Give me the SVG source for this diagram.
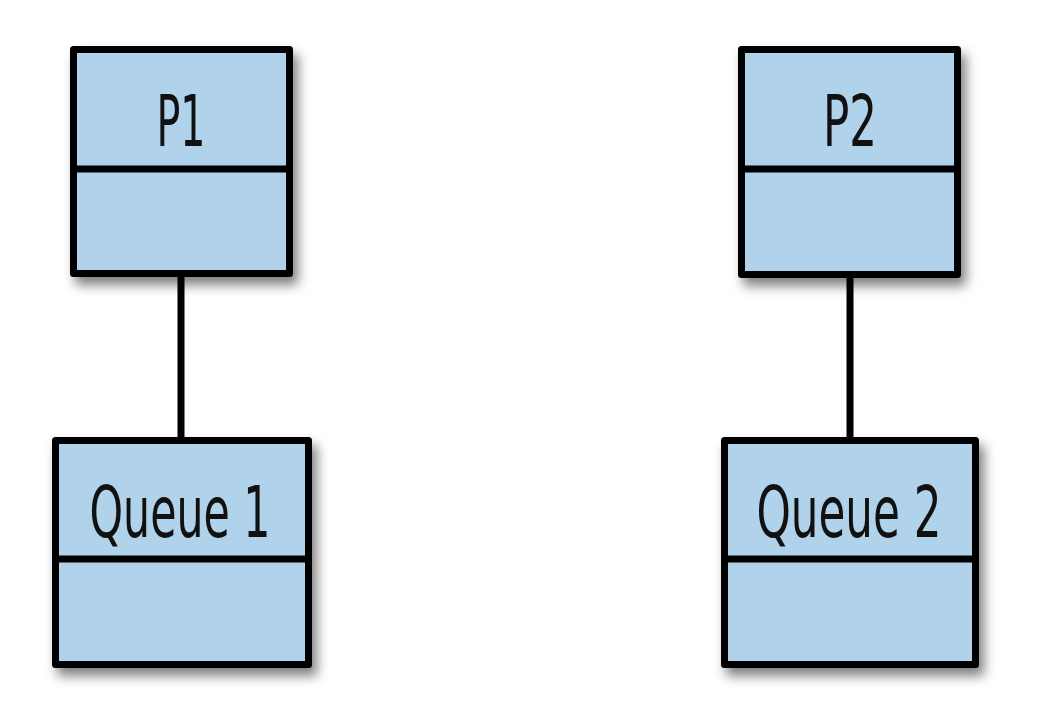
<svg xmlns="http://www.w3.org/2000/svg" width="1037" height="704" viewBox="0 0 1037 704">
<defs>
<filter id="sh" x="-20%" y="-20%" width="150%" height="150%">
<feDropShadow dx="5" dy="8" stdDeviation="6" flood-color="#000" flood-opacity="0.5"/>
</filter>
<style>
.box{fill:#b0d3eb;stroke:#000;stroke-width:7;stroke-linejoin:round;filter:url(#sh)}
.div{stroke:#000;stroke-width:7}
.lbl{font-family:"Liberation Sans Narrow","DejaVu Sans Condensed","Liberation Sans",sans-serif;font-size:72px;fill:#111;text-anchor:middle}
.con{stroke:#000;stroke-width:7;fill:none}
</style>
</defs>
<rect width="1037" height="704" fill="#fff"/>
<g id="connectors">
<line class="con" x1="181" y1="276" x2="181" y2="440"/>
<line class="con" x1="850" y1="276" x2="850" y2="440"/>
</g>
<g id="p1">
<rect class="box" x="73.5" y="49.5" width="216" height="224"/>
<line class="div" x1="73.5" y1="169" x2="289.5" y2="169"/>
<text class="lbl" x="181" y="146" textLength="49" lengthAdjust="spacingAndGlyphs">P1</text>
</g>
<g id="queue1">
<rect class="box" x="55.5" y="440.5" width="253" height="224"/>
<line class="div" x1="55.5" y1="559" x2="308.5" y2="559"/>
<text class="lbl" x="180" y="537" textLength="181" lengthAdjust="spacingAndGlyphs">Queue 1</text>
</g>
<g id="p2">
<rect class="box" x="741.5" y="49.5" width="216" height="225"/>
<line class="div" x1="741.5" y1="169" x2="957.5" y2="169"/>
<text class="lbl" x="850" y="146" textLength="54" lengthAdjust="spacingAndGlyphs">P2</text>
</g>
<g id="queue2">
<rect class="box" x="724.5" y="440.5" width="251" height="224"/>
<line class="div" x1="724.5" y1="559" x2="975.5" y2="559"/>
<text class="lbl" x="849" y="537" textLength="185" lengthAdjust="spacingAndGlyphs">Queue 2</text>
</g>
</svg>
